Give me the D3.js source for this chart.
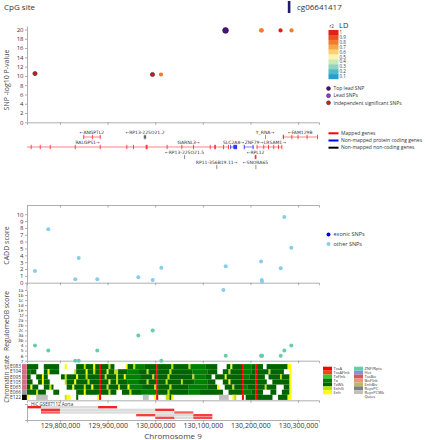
<!DOCTYPE html>
<html><head><meta charset="utf-8">
<script src="https://cdn.jsdelivr.net/npm/d3@7/dist/d3.min.js"></script>
<style>
html,body{margin:0;padding:0;background:#fff;}
svg text{font-family:"Open Sans","DejaVu Sans",sans-serif;}
svg text.gt{font-family:"DejaVu Sans",sans-serif;}
svg g.reg text{font-family:"DejaVu Sans",sans-serif;}
</style></head>
<body>
<svg id="chart" width="425" height="440"></svg>
<script>
// ================= DATA =================
const xDomain = [129730700, 130344000];
const xTickValues = [129800000, 129900000, 130000000, 130100000, 130200000, 130300000];

const cpgIds = ["cg06641417"];
const cpgPositions = [130281000];

// SNP association panel
const snpPositions = [129747500, 129994300, 130012200, 130147700, 130222300, 130223800, 130263200, 130286300];
const snpLogP     = [10.5, 10.3, 10.3, 19.8, 19.8, 19.8, 19.8, 19.8];
const snpR2       = [1, 1, 0.8, 1, 0.8, 0.8, 1, 0.8];
const snpTypes    = ["ind", "ind", "ld", "top", "ld", "ld", "ld", "ld"];
const topYTicks   = [0, 2, 4, 6, 8, 10, 12, 14, 16, 18, 20];

const ldLevels = [1, 0.9, 0.8, 0.7, 0.6, 0.5, 0.4, 0.3, 0.2, 0.1];
const ldColors = ["#e0201b","#e9531f","#f07c2e","#f6a64a","#fbd06e","#fdf3aa","#c9e9b8","#90d4bb","#4fbac8","#279ecf"];
const snpLegendLabels = ["Top lead SNP", "Lead SNPs", "Independent significant SNPs"];
const snpLegendColors = ["#4b0f7e", "#9b30e6", "#e3171b"];

// Genes
const geneNames   = ["RALGPS1","GARNL3","SLC2A8","ZNF79","LRSAM1","ANGPTL2","RP13-225O21.2","Y_RNA","FAM129B","RP13-225O21.5","RPL12","RP11-356B19.11","SNORA65"];
const geneStarts  = [129677000,129985000,130157000,130186000,130213000,129849000,129976000,130230500,130268000,130061000,130209000,130128500,130210500];
const geneEnds    = [129985000,130155000,130172000,130207000,130266000,129885000,129981000,130230600,130341000,130062000,130212500,130129500,130210700];
const geneStrands = ["+","+","+","+","+","-","-","+","-","-","-","+","-"];
const geneTypes   = ["mapped","mapped","protein","protein","mapped","mapped","noncoding","noncoding","mapped","noncoding","mapped","noncoding","noncoding"];
const geneRows    = [1,1,1,1,1,0,0,0,0,2,2,3,3];
const geneExons   = [
  [[129738500,129739500],[129757500,129758500],[129778500,129779500],[129831000,129832000],[129883500,129884500],[129939500,129940500],[129953500,129954500],[129980000,129984000]],
  [[130024000,130025000],[130055000,130056000],[130079500,130080500],[130114500,130115500],[130124000,130127500],[130142500,130143500],[130153000,130154000]],
  [[130157500,130158500],[130164000,130172000]],
  [[130186000,130187000],[130204500,130206500]],
  [[130213000,130214500],[130227000,130228000],[130237000,130238000],[130248000,130249000],[130258000,130259000],[130265000,130266000]],
  [[129849000,129850500],[129867000,129868000],[129883500,129885000]],
  [[129976000,129981000]],
  [[130230500,130230600]],
  [[130268000,130270500],[130286000,130287000],[130299000,130300000],[130318000,130319000],[130340000,130341000]],
  [[130061000,130062000]],
  [[130209000,130212500]],
  [[130128500,130129500]],
  [[130210500,130210700]]
];
const geneLegendLabels = ["Mapped genes","Non-mapped protein coding genes","Non-mapped non-coding genes"];
const geneLegendColors = ["#ff0000","#0000ff","#000000"];

// Annotation SNPs (CADD / RegulomeDB)
const annotPositions = [129747500,129775400,129832100,129839300,129878400,129964500,129994700,130012800,130143100,130148100,130222300,130223700,130224400,130263600,130271200,130285900];
const caddScores     = [1.7,7.8,0.5,3.6,0.5,0.8,0.4,2.2,null,2.4,3.1,0.4,0.15,2.1,9.6,5.1];
const caddExonic     = [false,false,false,false,false,false,false,false,false,false,false,false,false,false,false,false];
const regulomeScores = ["4","5","7","7","5","3a","2c","7","1a","6","6","6","6","6","5","4"];
const regulomeColorKey = ["m","m","m","m","m","m","m","m","s","m","m","m","m","m","m","m"];
const caddYTicks = [0,1,2,3,4,5,6,7,8,9,10];
const regulomeCategories = ["1a","1b","1c","1d","1e","1f","2a","2b","2c","3a","3b","4","5","6","7"];

// Chromatin states (run-length, 4 kb bins starting at chromStart)
const chromStart = 129730000;
const chromBinSize = 4000;
const tissues = ["E083","E104","E095","E105","E065","E066","E122"];
const tissueGroupColors = ["#d56f80","#d56f80","#d56f80","#d56f80","#d56f80","#999999","#000000"];
const chromRuns = [
  "W6 .3 W8 .3 E1 .5 W4 G1 W4 E1 W2 A1 W4 G1 W2 .6 E1 W3 G1 T5 W6 A1 W7 G1 W8 G1 T8 W6 .5 W2 E1 W5 A1 T4 W2 A1 W3 .2 W11 E2",
  "T2 W3 .4 W2 E1 W5 .8 G1 W5 E1 W3 G1 W2 A1 W3 E1 W3 G2 W5 T6 W4 G1 W4 A1 W6 G1 W11 T8 W5 .3 W3 G1 W6 A1 T4 W2 A1 W6 G1 W7 .3 E1",
  "W2 .3 W3 E1 W2 .7 W2 G1 W5 E1 W4 G1 W6 A1 W2 G1 W5 G1 W3 E1 T8 W6 G1 W1 A1 W5 G1 W12 G1 T6 W3 .2 W5 E1 W8 A1 T3 W3 A1 W4 .2 W6 G1 W4 E1",
  "W3 .3 W2 E1 W3 .8 G1 W4 E1 W6 G1 W5 A1 W4 E1 W3 G1 W5 T6 W4 G1 W4 A1 W4 G1 W7 G1 W6 T7 W4 .4 W3 E1 W6 A1 W6 A1 W5 .3 W9 E1",
  "W2 E1 W3 .3 W3 G1 W1 .7 W3 E1 W5 G1 W3 E1 W3 A1 W3 G1 W5 G1 W4 E1 T7 W6 G1 A1 W6 G1 W9 T10 W5 E1 .3 W4 G1 W4 A1 T2 W4 A1 W4 G1 W5 .4 W3 E1",
  "W5 G1 W4 .4 W3 .9 W4 E1 W7 A1 W4 G1 W3 .3 W4 G1 W5 T8 A1 W5 G1 W10 T6 W12 .3 W7 A1 T4 W2 A1 W3 .4 W3 .3 W4 E1",
  "E1 .4 r6 .9 G1 E2 .3 W1 .10 E1 A1 .22 r3 .3 E1 A1 .4 G2 W1 E1 .24 r5 .2 E1 G1 .3 A1 .1 W5 A1 W8 .3 W5 E2"
];
const stateCodes  = ["A","F","X","T","W","G","E","Z","H","B","b","e","R","r","."];
const stateNames  = ["TssA","TssAFlnk","TxFlnk","Tx","TxWk","EnhG","Enh","ZNF/Rpts","Het","TssBiv","BivFlnk","EnhBiv","ReprPC","ReprPCWk","Quies"];
const stateColors = ["#ff0000","#ff4500","#32cd32","#008000","#006400","#c2e105","#ffff00","#66cdaa","#8a91d0","#cd5c5c","#e9967a","#bdb76b","#808080","#c0c0c0","#ffffff"];

// Hi-C interactions (40 kb bins)
const hicLabel = "HiC GSE87112 Aorta";
const hicRegion1Start = [129720000,129760000,129760000,129960000,130000000];
const hicRegion2Start = [129880000,130000000,130040000,130080000,130080000];
const hicBinSize = 40000;
const hicStrength = [1, 0.9, 0.55, 0.8, 0.7];

// ================= DRAW =================
const svg = d3.select("#chart");
const x = d3.scaleLinear().domain(xDomain).range([27, 319]);
const TXT = "#333", AX = "#9a9a9a";

svg.append("defs").append("clipPath").attr("id","clipX")
  .append("rect").attr("x", x(xDomain[0])).attr("y", 0)
  .attr("width", x(xDomain[1]) - x(xDomain[0])).attr("height", 440);

function styleAxis(g, fs) {
  g.select(".domain").attr("stroke", AX).attr("stroke-width", 0.8);
  g.selectAll(".tick line").attr("stroke", AX).attr("stroke-width", 0.8);
  g.selectAll(".tick text").attr("fill", TXT).style("font-size", fs + "px");
}
function xAxisAt(y, labels) {
  const ax = d3.axisBottom(x).tickValues(xTickValues).tickSize(2.5).tickSizeOuter(2.5)
    .tickPadding(1).tickFormat(labels ? d3.format(",") : "");
  const g = svg.append("g").attr("transform", `translate(0,${y})`).call(ax);
  styleAxis(g, 7);
  return g;
}
function yLabel(text, cy, fs) {
  svg.append("text").attr("transform", `translate(9,${cy}) rotate(-90)`)
    .attr("text-anchor", "middle").attr("fill", "#444").style("font-size", (fs || 7) + "px").text(text);
}

// --- CpG row
svg.append("text").attr("x", 4).attr("y", 10).attr("fill", TXT).style("font-size", "8px").text("CpG site");
svg.selectAll(".cpg").data(cpgPositions).join("rect").attr("class","cpg")
  .attr("x", d => x(d) - 1.2).attr("y", 1).attr("width", 2.6).attr("height", 12).attr("fill", "#1f1b6b");
svg.selectAll(".cpgt").data(cpgIds).join("text").attr("class","cpgt")
  .attr("x", (d,i) => x(cpgPositions[i]) + 8).attr("y", 10).attr("fill", TXT).style("font-size", "8px").text(d => d);

// --- SNP panel
const yTop = d3.scaleLinear().domain([0, 20.75]).range([122.3, 26]);
styleAxis(svg.append("g").attr("transform", "translate(27,0)")
  .call(d3.axisLeft(yTop).tickValues(topYTicks).tickSize(2).tickSizeOuter(0).tickPadding(1.5)), 6);
xAxisAt(122.3, false);
yLabel("SNP -log10 P-value", 80);

const ldColor = r2 => ldColors[ldLevels.findIndex(l => r2 >= l - 0.05)] || ldColors[ldColors.length - 1];
const snps = snpPositions.map((p, i) => ({ pos: p, lp: snpLogP[i], r2: snpR2[i], type: snpTypes[i] }));
const order = { ld: 0, ind: 1, lead: 2, top: 3 };
svg.append("g").attr("clip-path", "url(#clipX)").selectAll("circle")
  .data(snps.sort((a, b) => order[a.type] - order[b.type])).join("circle")
  .attr("cx", d => x(d.pos)).attr("cy", d => yTop(d.lp))
  .attr("r", d => d.type === "top" ? 2.9 : 2.1)
  .attr("fill", d => d.type === "top" ? snpLegendColors[0] : d.type === "lead" ? snpLegendColors[1] : d.type === "ind" ? "#d21a1a" : ldColor(d.r2))
  .attr("stroke", d => d.type === "ld" ? "none" : "#222").attr("stroke-width", 0.6);

// LD legend
const yLd = d3.scaleBand().domain(ldLevels).range([30, 79]);
svg.selectAll(".ldr").data(ldLevels).join("rect").attr("class","ldr")
  .attr("x", 328.5).attr("y", d => yLd(d)).attr("width", 10).attr("height", yLd.bandwidth() + 0.2)
  .attr("fill", (d, i) => ldColors[i]);
svg.selectAll(".ldt").data(ldLevels).join("text").attr("class","ldt")
  .attr("x", 339.5).attr("y", d => yLd(d) + yLd.bandwidth() / 2).attr("dy", "0.35em")
  .attr("fill", TXT).style("font-size", "4.5px").text(d => d);
svg.append("text").attr("x", 329.5).attr("y", 27.5).attr("fill", TXT).style("font-size", "4.5px").text("r2");
svg.append("text").attr("x", 339).attr("y", 28.3).attr("fill", TXT).style("font-size", "7.5px").text("LD");
const ySym = d3.scalePoint().domain(snpLegendLabels).range([88.5, 102.8]);
svg.selectAll(".syc").data(snpLegendLabels).join("circle").attr("class","syc")
  .attr("cx", 328.5).attr("cy", d => ySym(d)).attr("r", 2)
  .attr("fill", (d, i) => snpLegendColors[i]).attr("stroke", "#222").attr("stroke-width", 0.5);
svg.selectAll(".syt").data(snpLegendLabels).join("text").attr("class","syt")
  .attr("x", 333.5).attr("y", d => ySym(d)).attr("dy", "0.35em")
  .attr("fill", TXT).style("font-size", "5px").text(d => d);

// --- Gene panel
const yGene = d3.scaleLinear().domain([0, 3]).range([137, 167]);
const geneCol = { mapped: "#ff0000", protein: "#0000ff", noncoding: "#000000" };
const genes = geneNames.map((n, i) => ({ name: n, s: geneStarts[i], e: geneEnds[i], strand: geneStrands[i], type: geneTypes[i], row: geneRows[i], exons: geneExons[i] }));
const gG = svg.append("g").attr("clip-path", "url(#clipX)");
gG.selectAll(".gl").data(genes).join("line").attr("class","gl")
  .attr("x1", d => x(d.s)).attr("x2", d => x(d.e)).attr("y1", d => yGene(d.row)).attr("y2", d => yGene(d.row))
  .attr("stroke", d => geneCol[d.type]).attr("stroke-opacity", 0.55).attr("stroke-width", 0.9);
genes.forEach(g => {
  gG.selectAll(null).data(g.exons).join("rect")
    .attr("x", d => x(d[0])).attr("width", d => Math.max(0.9, x(d[1]) - x(d[0])))
    .attr("y", yGene(g.row) - 2.2).attr("height", 4.4)
    .attr("fill", geneCol[g.type]).attr("fill-opacity", g.type === "noncoding" ? 0.45 : 0.75);
});
const gLabels = svg.selectAll(".gt").data(genes).join("text").attr("class","gt")
  .attr("x", d => (x(Math.max(d.s, xDomain[0])) + x(Math.min(d.e, xDomain[1]))) / 2)
  .attr("y", d => yGene(d.row) - 3).attr("text-anchor", "middle")
  .attr("fill", TXT).style("font-size", "4.5px")
  .text(d => d.strand === "+" ? d.name + "\u2192" : "\u2190" + d.name);
// nudge labels in the same row apart so they do not collide
d3.groups(gLabels.nodes(), n => d3.select(n).datum().row).forEach(([row, nodes]) => {
  nodes.sort((a, b) => +a.getAttribute("x") - +b.getAttribute("x"));
  let prevRight = -Infinity;
  nodes.forEach(n => {
    const w = n.getComputedTextLength();
    let cx = +n.getAttribute("x");
    if (cx - w / 2 < prevRight + 0.6) { cx = prevRight + 0.6 + w / 2; n.setAttribute("x", cx); }
    prevRight = cx + w / 2;
  });
});
const yGL = d3.scalePoint().domain(geneLegendLabels).range([133.3, 147.7]);
svg.selectAll(".gll").data(geneLegendLabels).join("line").attr("class","gll")
  .attr("x1", 328.5).attr("x2", 338.5).attr("y1", d => yGL(d)).attr("y2", d => yGL(d))
  .attr("stroke", (d, i) => geneLegendColors[i]).attr("stroke-width", 2);
svg.selectAll(".glt").data(geneLegendLabels).join("text").attr("class","glt")
  .attr("x", 341).attr("y", d => yGL(d)).attr("dy", "0.35em")
  .attr("fill", TXT).style("font-size", "5px").text(d => d);
xAxisAt(205, false);

// --- CADD panel
const yCadd = d3.scaleLinear().domain([0, 11.35]).range([282.7, 205]);
styleAxis(svg.append("g").attr("transform", "translate(27,0)")
  .call(d3.axisLeft(yCadd).tickValues(caddYTicks).tickSize(2).tickSizeOuter(0).tickPadding(1.5)), 6);
xAxisAt(282.7, false);
yLabel("CADD score", 245.5);
const annot = annotPositions.map((p, i) => ({ pos: p, cadd: caddScores[i], ex: caddExonic[i], reg: regulomeScores[i], rc: regulomeColorKey[i] }));
svg.append("g").attr("clip-path", "url(#clipX)").selectAll("circle")
  .data(annot.filter(d => d.cadd !== null)).join("circle")
  .attr("cx", d => x(d.pos)).attr("cy", d => yCadd(d.cadd)).attr("r", 2)
  .attr("fill", d => d.ex ? "#0000ff" : "#87ceeb");
const caddLegend = ["exonic SNPs", "other SNPs"], caddLegendColors = ["#0000ff", "#87ceeb"];
const yCL = d3.scalePoint().domain(caddLegend).range([234.5, 244]);
svg.selectAll(".clc").data(caddLegend).join("circle").attr("class","clc")
  .attr("cx", 328.5).attr("cy", d => yCL(d)).attr("r", 2).attr("fill", (d, i) => caddLegendColors[i]);
svg.selectAll(".clt").data(caddLegend).join("text").attr("class","clt")
  .attr("x", 333.5).attr("y", d => yCL(d)).attr("dy", "0.35em").attr("fill", TXT).style("font-size", "5.5px").text(d => d);

// --- RegulomeDB panel
const yReg = d3.scalePoint().domain(regulomeCategories).range([290, 360.7]);
svg.append("line").attr("x1", 27).attr("x2", 27).attr("y1", yCadd(0)).attr("y2", yReg("1a")).attr("stroke", AX).attr("stroke-width", 0.8);
styleAxis(svg.append("g").attr("class", "reg").attr("transform", "translate(27,0)")
  .call(d3.axisLeft(yReg).tickSize(2).tickSizeOuter(0).tickPadding(1.5)), 4.3);
xAxisAt(360.7, false);
yLabel("RegulomeDB score", 321, 6.8);
svg.append("g").attr("clip-path", "url(#clipX)").selectAll("circle")
  .data(annot).join("circle")
  .attr("cx", d => x(d.pos)).attr("cy", d => yReg(d.reg)).attr("r", 2)
  .attr("fill", d => d.rc === "s" ? "#87ceeb" : "#66cdaa");

// --- Chromatin state panel
const yChr = d3.scaleBand().domain(tissues).range([364.1, 399.9]);
const stateColor = {};
stateCodes.forEach((c, i) => stateColor[c] = stateColors[i]);
const chromSegs = [];
chromRuns.forEach((str, ti) => {
  let bin = 0;
  str.split(" ").forEach(tok => {
    const code = tok[0], n = +tok.slice(1);
    if (code !== ".") chromSegs.push({ t: tissues[ti], s: chromStart + bin * chromBinSize, e: chromStart + (bin + n) * chromBinSize, c: code });
    bin += n;
  });
});
svg.append("g").attr("clip-path", "url(#clipX)").selectAll("rect").data(chromSegs).join("rect")
  .attr("x", d => x(d.s)).attr("width", d => x(d.e) - x(d.s) + 0.15)
  .attr("y", d => yChr(d.t)).attr("height", yChr.bandwidth())
  .attr("fill", d => stateColor[d.c]);
svg.selectAll(".tsw").data(tissues).join("rect").attr("class","tsw")
  .attr("x", 22).attr("width", 4.8).attr("y", d => yChr(d)).attr("height", yChr.bandwidth() + 0.1)
  .attr("fill", (d, i) => tissueGroupColors[i]);
svg.selectAll(".tst").data(tissues).join("text").attr("class","tst")
  .attr("x", 21).attr("y", d => yChr(d) + yChr.bandwidth() / 2).attr("dy", "0.35em")
  .attr("text-anchor", "end").attr("fill", TXT).style("font-size", "4.8px").text(d => d);
xAxisAt(400.3, false);
yLabel("Chromatin state", 379, 6.3);
// chromatin legend
const col1 = stateNames.slice(0, 7), col2 = stateNames.slice(7);
const yS = d3.scaleBand().domain(d3.range(8)).range([366.7, 398.2]);
[[col1, 323], [col2, 354]].forEach(([names, cx], ci) => {
  const off = ci === 0 ? 0 : 7;
  svg.selectAll(null).data(names).join("rect")
    .attr("x", cx).attr("width", 9).attr("y", (d, i) => yS(i)).attr("height", yS.bandwidth())
    .attr("fill", (d, i) => stateColors[i + off]);
  svg.selectAll(null).data(names).join("text")
    .attr("x", cx + 10.5).attr("y", (d, i) => yS(i) + yS.bandwidth() / 2).attr("dy", "0.35em")
    .attr("fill", TXT).style("font-size", "4px").text(d => d);
});

// --- Hi-C panel
const yH = d3.scaleBand().domain(d3.range(hicRegion1Start.length)).range([406, 419]).paddingInner(0.12);
const hic = hicRegion1Start.map((s, i) => ({ i, a: s, b: hicRegion2Start[i], w: hicStrength[i] }));
const hG = svg.append("g").attr("clip-path", "url(#clipX)");
hG.selectAll(".hb").data(hic).join("rect").attr("class","hb")
  .attr("x", d => x(d.a + hicBinSize)).attr("width", d => x(d.b) - x(d.a + hicBinSize))
  .attr("y", d => yH(d.i)).attr("height", yH.bandwidth()).attr("fill", "#dcdcdc");
hG.selectAll(".ha").data(hic.flatMap(d => [{ i: d.i, s: d.a, w: d.w }, { i: d.i, s: d.b, w: d.w }])).join("rect").attr("class","ha")
  .attr("x", d => x(d.s)).attr("width", d => x(d.s + hicBinSize) - x(d.s))
  .attr("y", d => yH(d.i)).attr("height", yH.bandwidth())
  .attr("fill", "#f01818").attr("fill-opacity", d => 0.35 + 0.6 * d.w);
svg.append("text").attr("x", 31).attr("y", 405.5).attr("fill", TXT).style("font-size", "4.5px").text(hicLabel);
styleAxis(svg.append("g").attr("transform", "translate(27,0)")
  .call(d3.axisLeft(d3.scaleLinear().domain([0, 1]).range([420, 404])).tickValues([]).tickSizeOuter(2)), 6);
xAxisAt(420, true);
svg.append("text").attr("x", 173).attr("y", 438.5).attr("text-anchor", "middle")
  .attr("fill", "#444").style("font-size", "8px").text("Chromosome 9");
</script>
</body></html>
